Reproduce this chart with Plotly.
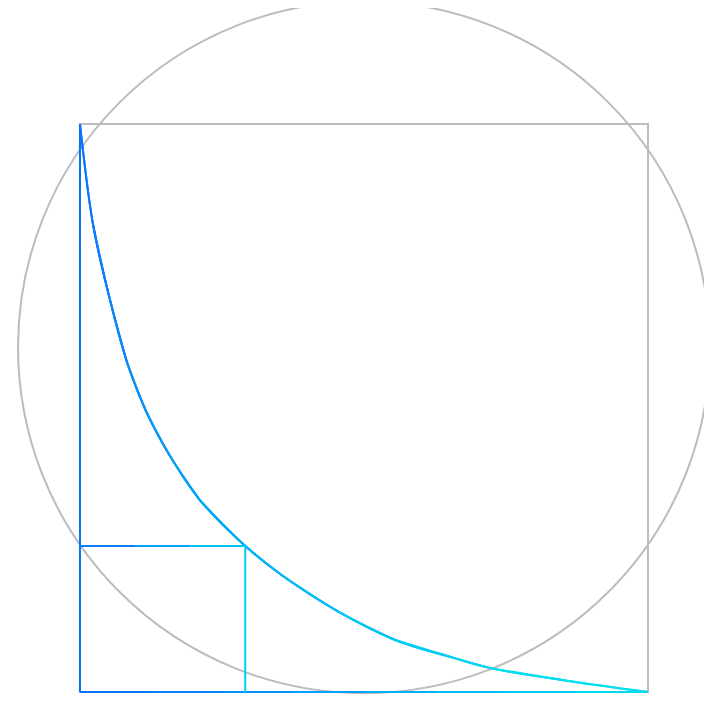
import plotly.graph_objects as go

# curve points (unit square coords)
curve_x = [0, 0.023, 0.050, 0.083, 0.117, 0.157, 0.211, 0.291, 0.359, 0.454, 0.554, 0.655, 0.723, 0.857, 1]
curve_y = [1, 0.823, 0.702, 0.580, 0.493, 0.418, 0.338, 0.257, 0.203, 0.142, 0.092, 0.061, 0.042, 0.020, 0]

# small rectangle corner
rect_x = 0.291
rect_y = 0.257

# circle centre and radius
circ_cx, circ_cy, circ_r = 0.5, 0.607, 0.609

c_start = (10, 110, 255)
c_end = (0, 225, 240)


def mix(t):
    r, g, b = [int(a + (bb - a) * t) for a, bb in zip(c_start, c_end)]
    return f"rgb({r},{g},{b})"


fig = go.Figure()
gray = "#bbbbc0"
fig.add_shape(type="circle", x0=circ_cx - circ_r, x1=circ_cx + circ_r,
              y0=circ_cy - circ_r, y1=circ_cy + circ_r, line=dict(color=gray, width=2), layer="below")
fig.add_shape(type="rect", x0=0, x1=1, y0=0, y1=1, line=dict(color=gray, width=2), layer="below")

# curve, in overlapping spline pieces so the colour can shift along it
n = len(curve_x)
for i in range(n - 1):
    a = max(i - 1, 0)
    b = min(i + 3, n)
    fig.add_trace(go.Scatter(x=curve_x[a:b], y=curve_y[a:b], mode="lines",
                             line=dict(color=mix(i / (n - 2)), width=2, shape="spline", smoothing=1.0),
                             hoverinfo="skip"))

# left edge
fig.add_trace(go.Scatter(x=[0, 0], y=[0, 1], mode="lines",
                         line=dict(color=mix(0.02), width=2), hoverinfo="skip"))
# bottom edge in gradient pieces
steps = 8
for k in range(steps):
    fig.add_trace(go.Scatter(x=[k / steps, (k + 1) / steps], y=[0, 0], mode="lines",
                             line=dict(color=mix((k + 0.5) / steps), width=2), hoverinfo="skip"))
# small rectangle top and right
for k in range(3):
    fig.add_trace(go.Scatter(x=[rect_x * k / 3, rect_x * (k + 1) / 3], y=[rect_y, rect_y], mode="lines",
                             line=dict(color=mix((k + 0.5) / 3 * 0.9), width=2), hoverinfo="skip"))
fig.add_trace(go.Scatter(x=[rect_x, rect_x], y=[0, rect_y], mode="lines",
                         line=dict(color=mix(0.85), width=2), hoverinfo="skip"))

fig.update_layout(
    width=712, height=727, margin=dict(l=0, r=0, t=0, b=0),
    paper_bgcolor="white", plot_bgcolor="white", showlegend=False,
    xaxis=dict(range=[-0.1267, 1.1268], visible=False),
    yaxis=dict(range=[-0.0757, 1.2042], visible=False),
)
fig.write_html("out.html")
